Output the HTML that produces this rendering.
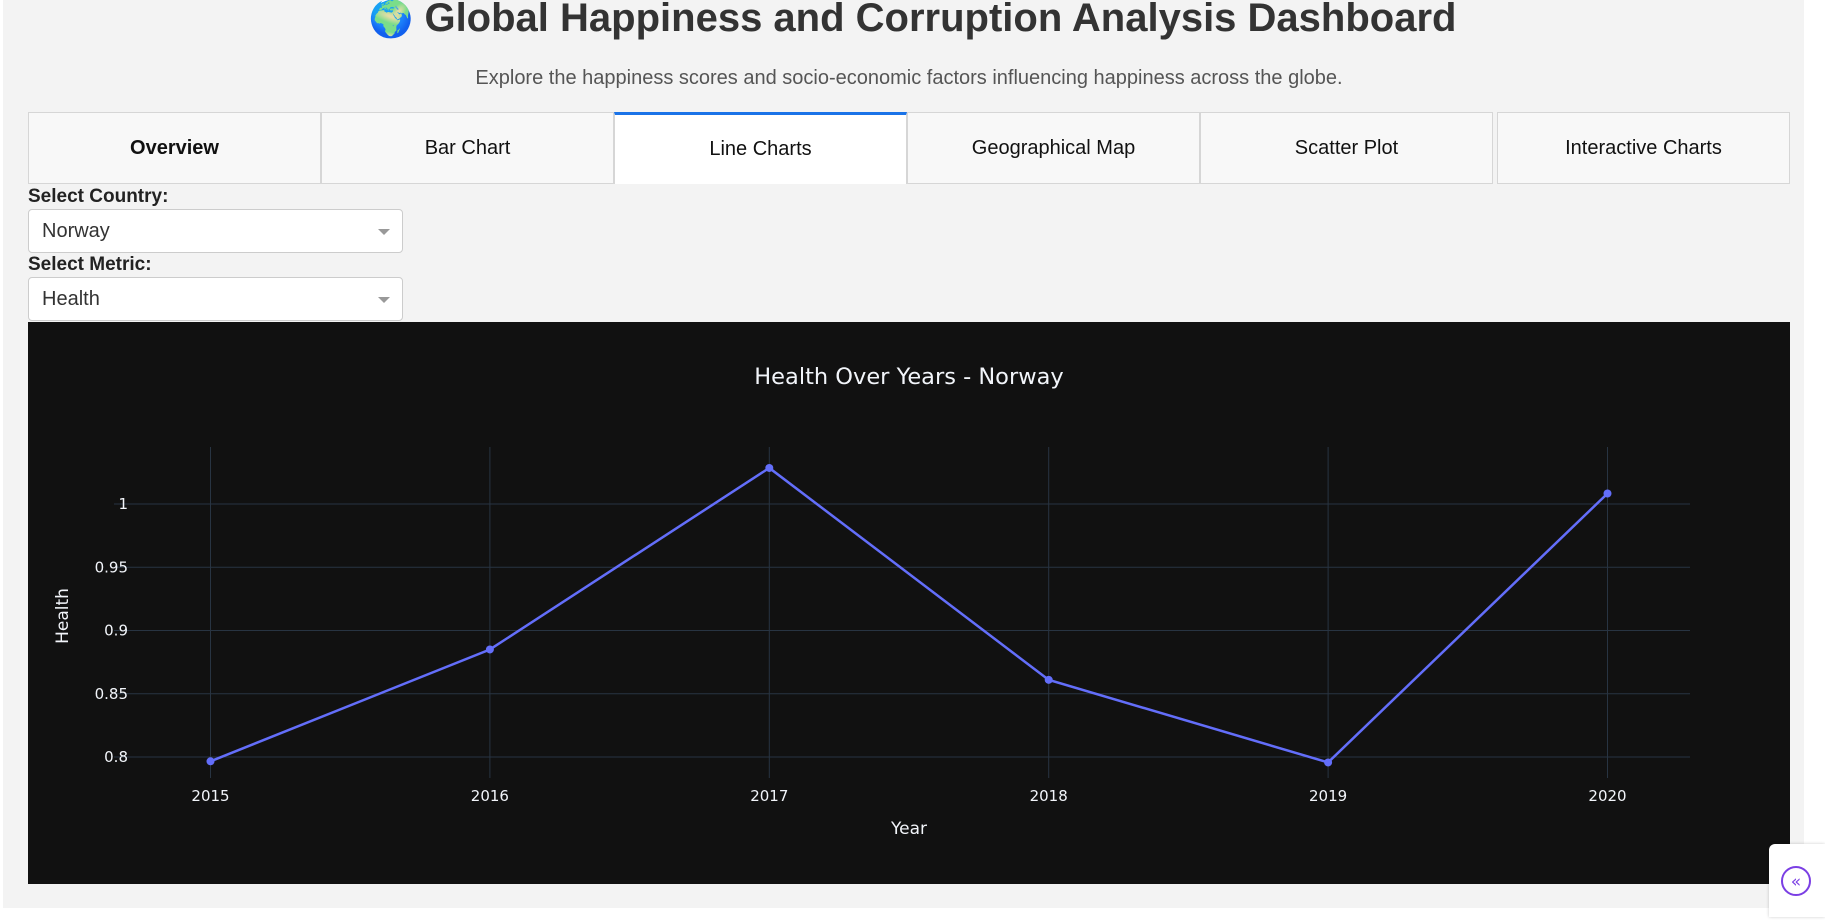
<!DOCTYPE html>
<html><head><meta charset="utf-8">
<style>
html,body{margin:0;padding:0;width:1825px;height:917px;overflow:hidden;background:#fff;font-family:"Liberation Sans",Arial,sans-serif;}
#page{position:absolute;left:3px;top:0;width:1801px;height:908px;background:#f3f3f3;}
#title{position:absolute;left:0;width:1825px;top:-5px;text-align:center;font-weight:bold;font-size:40px;color:#333;line-height:46px;margin:0;}
#sub{position:absolute;left:0;width:1818px;top:67px;text-align:center;font-size:20px;color:#555;margin:0;}
.tab{position:absolute;top:112px;height:72px;width:293px;background:#f8f8f8;border:1px solid #d6d6d6;box-sizing:border-box;display:flex;align-items:center;justify-content:center;font-size:20px;color:#111;}
.tab.active{background:#fff;border-top:3px solid #1a73e8;border-bottom:none;}
.lbl{position:absolute;left:28px;font-weight:bold;font-size:19px;color:#222;}
.dd{position:absolute;left:28px;width:375px;height:44px;background:#fff;border:1px solid #ccc;border-radius:4px;box-sizing:border-box;font-size:20px;color:#333;padding-left:13px;line-height:42px;}
.dd .arr{position:absolute;right:12px;top:19px;width:0;height:0;border-left:6px solid transparent;border-right:6px solid transparent;border-top:6px solid #999;}
#chart{position:absolute;left:28px;top:322px;width:1762px;height:562px;background:#111111;}
#fab{position:absolute;left:1769px;top:844px;width:56px;height:73px;background:#fff;border-radius:6px 0 0 0;box-shadow:0 0 3px rgba(0,0,0,.2);}
</style></head><body>
<div id="page"></div>
<h1 id="title"><span style="font-size:36px">🌍</span> Global Happiness and Corruption Analysis Dashboard</h1>
<p id="sub">Explore the happiness scores and socio-economic factors influencing happiness across the globe.</p>
<div class="tab" style="left:28px;font-weight:bold">Overview</div>
<div class="tab" style="left:321px">Bar Chart</div>
<div class="tab active" style="left:614px">Line Charts</div>
<div class="tab" style="left:907px">Geographical Map</div>
<div class="tab" style="left:1200px">Scatter Plot</div>
<div class="tab" style="left:1497px;width:293px">Interactive Charts</div>
<div class="lbl" style="top:186px">Select Country:</div>
<div class="dd" style="top:209px">Norway<span class="arr"></span></div>
<div class="lbl" style="top:254px">Select Metric:</div>
<div class="dd" style="top:277px">Health<span class="arr"></span></div>
<div id="chart">
<svg id="svg" width="1762" height="562" xmlns="http://www.w3.org/2000/svg" font-family="DejaVu Sans, Liberation Sans, sans-serif"></svg>
</div>
<div id="fab">
<svg width="56" height="73"><circle cx="27" cy="37" r="14" fill="none" stroke="#7b3fe4" stroke-width="2"/><text x="27" y="43" text-anchor="middle" font-size="17" fill="#7b3fe4" font-family="DejaVu Sans">«</text></svg>
</div>
<script>
const years=[2015,2016,2017,2018,2019,2020];
const values=[0.7966,0.885,1.0285,0.861,0.7957,1.0083];
const yTicks=[0.8,0.85,0.9,0.95,1];
const yTickLabels=["0.8","0.85","0.9","0.95","1"];
const NS="http://www.w3.org/2000/svg";
const svg=document.getElementById('svg');
const px0=86,px1=1662,py0=125,py1=456;
function xs(yr){return 182.5+(yr-2015)*(1579.5-182.5)/5;}
function ys(v){return 435-(v-0.8)*(435-182)/0.2;}
function mk(tag,attrs,txt){const e=document.createElementNS(NS,tag);for(const k in attrs)e.setAttribute(k,attrs[k]);if(txt!=null)e.textContent=txt;svg.appendChild(e);return e;}
let e;
years.forEach((yr,i)=>{
 e=mk('line',{x1:xs(yr),x2:xs(yr),y1:py0,y2:py1,stroke:'#283442','stroke-width':1});
 
 
 e=mk('text',{x:xs(yr),y:479,'text-anchor':'middle','font-size':15,fill:'#f2f5fa'},String(yr));
 
 
});
yTicks.forEach((v,i)=>{
 e=mk('line',{x1:px0,x2:px1,y1:ys(v),y2:ys(v),stroke:'#283442','stroke-width':1});
 
 
 e=mk('text',{x:100,y:ys(v)+5,'text-anchor':'end','font-size':15,fill:'#f2f5fa'},yTickLabels[i]);
 
 
});
e=mk('polyline',{points:years.map((yr,i)=>xs(yr)+','+ys(values[i])).join(' '),fill:'none',stroke:'#636efa','stroke-width':2.5});


years.forEach((yr,i)=>{
 e=mk('circle',{cx:xs(yr),cy:ys(values[i]),r:4,fill:'#636efa'});
 
 
});
e=mk('text',{x:881,y:62,'text-anchor':'middle','font-size':22.5,fill:'#f2f5fa'},'Health Over Years - Norway');


e=mk('text',{x:881,y:512,'text-anchor':'middle','font-size':17,fill:'#f2f5fa'},'Year');


e=mk('text',{x:0,y:0,'text-anchor':'middle','font-size':17,fill:'#f2f5fa',transform:'translate(40,294) rotate(-90)'},'Health');


</script>
</body></html>
